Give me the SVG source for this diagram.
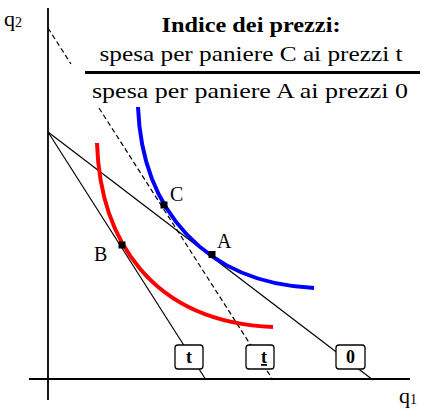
<svg xmlns="http://www.w3.org/2000/svg" width="430" height="410" viewBox="0 0 430 410">
<style>
  text { font-family: "Liberation Serif", "Times New Roman", serif; fill: #000; }
  .axis { stroke: #000; stroke-width: 1.8; fill: none; }
  .line { stroke: #000; stroke-width: 1.2; fill: none; }
  .dash { stroke: #000; stroke-width: 1.2; fill: none; stroke-dasharray: 5 3; }
  .curve { stroke-width: 4; fill: none; }
  .box { fill: #fff; stroke: #000; stroke-width: 1.3; }
  .pt { fill: #000; }
  .lbl { font-size: 20px; }
  .boxlbl { font-size: 18px; font-weight: bold; text-anchor: middle; }
</style>
<rect width="430" height="410" fill="#fff"/>

<g id="axes">
  <line class="axis" x1="48" y1="8" x2="48" y2="400"/>
  <line class="axis" x1="29" y1="379" x2="410" y2="379"/>
  <text x="4" y="26" font-size="22">q<tspan font-size="14" dy="1">2</tspan></text>
  <text x="399" y="403" font-size="22">q<tspan font-size="14" dy="1">1</tspan></text>
</g>

<g id="title">
  <text x="251" y="32" font-size="20" font-weight="bold" text-anchor="middle" textLength="179" lengthAdjust="spacingAndGlyphs">Indice dei prezzi:</text>
  <text x="251" y="61" font-size="21" text-anchor="middle" textLength="303" lengthAdjust="spacingAndGlyphs">spesa per paniere C ai prezzi t</text>
  <line x1="85" y1="72.5" x2="420" y2="72.5" stroke="#000" stroke-width="3.2"/>
  <text x="250" y="98" font-size="21" text-anchor="middle" textLength="316" lengthAdjust="spacingAndGlyphs">spesa per paniere A ai prezzi 0</text>
</g>

<g id="connectors">
  <line class="dash" x1="48" y1="28" x2="71" y2="64"/>
  <line class="dash" x1="99" y1="108" x2="273" y2="380"/>
  <line class="line" x1="48" y1="132" x2="206" y2="380"/>
  <line class="line" x1="48" y1="132" x2="373" y2="380"/>
</g>

<g id="curve-red">
  <path class="curve" stroke="#ff0000" d="M97,143 C100,238 150,322 273,327"/>
</g>
<g id="curve-blue">
  <path class="curve" stroke="#0000ff" d="M138,107 C142,210 205,283 314,288"/>
</g>

<g id="point-C">
  <rect class="pt" x="160.5" y="201.5" width="7" height="7"/>
  <text class="lbl" x="170" y="201">C</text>
</g>
<g id="point-A">
  <rect class="pt" x="208.5" y="251" width="7" height="7"/>
  <text class="lbl" x="217" y="248">A</text>
</g>
<g id="point-B">
  <rect class="pt" x="118.5" y="241.5" width="7" height="7"/>
  <text class="lbl" x="94" y="261">B</text>
</g>

<g id="box-t">
  <rect class="box" x="175" y="345" width="28" height="24" rx="3"/>
  <text class="boxlbl" x="189" y="363">t</text>
</g>
<g id="box-t-under">
  <rect class="box" x="246" y="345" width="28" height="24" rx="3"/>
  <text class="boxlbl" x="264" y="363" text-decoration="underline">t</text>
</g>
<g id="box-0">
  <rect class="box" x="336" y="345" width="29" height="24" rx="3"/>
  <text class="boxlbl" x="350.5" y="363">0</text>
</g>
</svg>
